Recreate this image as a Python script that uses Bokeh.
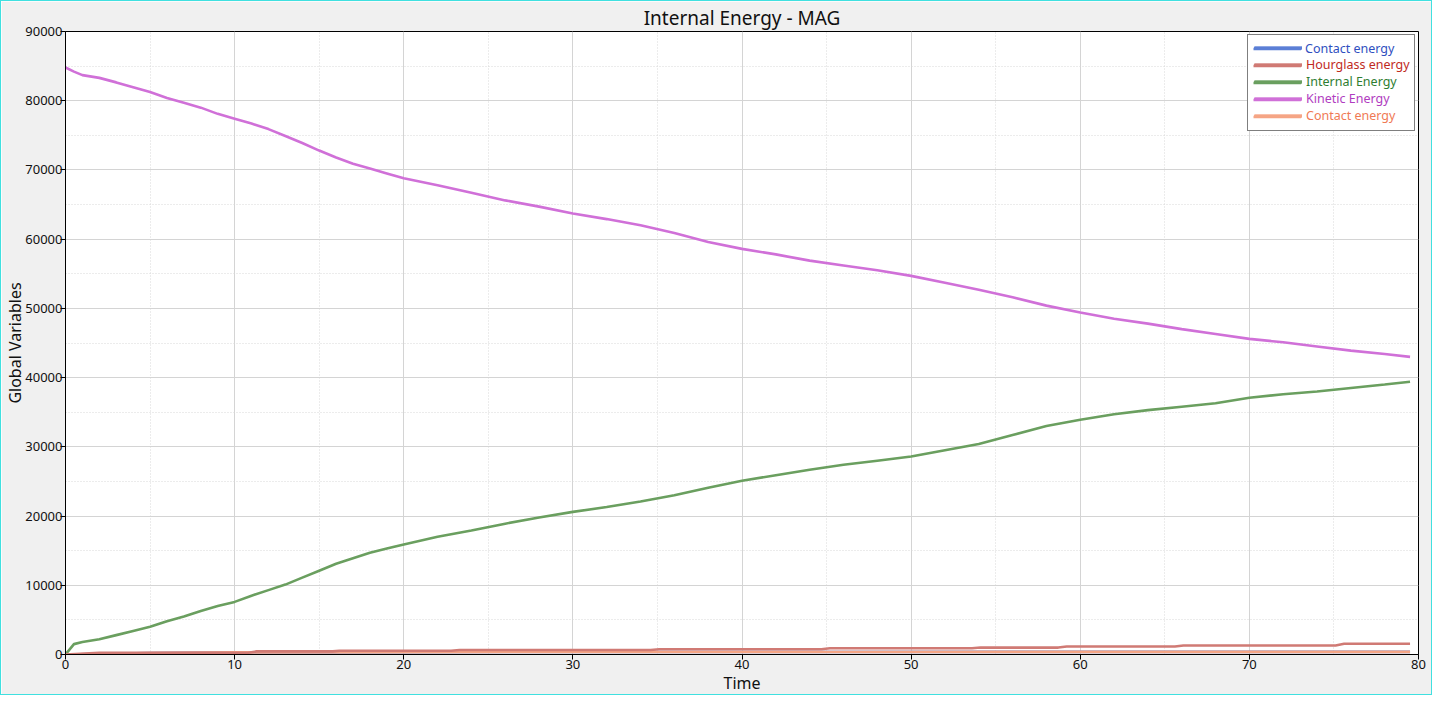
from bokeh.plotting import figure
from bokeh.models import Legend, LegendItem, BasicTicker
from bokeh.embed import file_html
from bokeh.resources import INLINE

# ---- data ----
t_main = [0, 0.5, 1, 2, 3, 4, 5, 6, 7, 8, 9, 10, 11, 12, 13, 14, 15, 16, 17, 18, 19, 20,
          22, 24, 26, 28, 30, 32, 34, 36, 38, 40, 42, 44, 46, 48, 50, 52, 54, 56, 58,
          60, 62, 64, 66, 68, 70, 72, 74, 76, 78, 79.5]
kinetic = [84800, 84200, 83700, 83300, 82650, 81950, 81250, 80400, 79700, 79000, 78100,
           77400, 76700, 75900, 74900, 73900, 72800, 71800, 70900, 70200, 69500, 68800,
           67800, 66700, 65600, 64700, 63700, 62900, 62000, 60900, 59600, 58600, 57800,
           56900, 56200, 55500, 54700, 53700, 52700, 51600, 50400, 49400, 48500, 47800,
           47000, 46300, 45600, 45100, 44500, 43900, 43400, 43000]
internal = [0, 1500, 1800, 2200, 2800, 3400, 4000, 4800, 5500, 6300, 7000, 7600, 8500,
            9300, 10100, 11100, 12100, 13100, 13900, 14700, 15300, 15900, 17000, 17900,
            18900, 19800, 20600, 21300, 22100, 23000, 24100, 25100, 25900, 26700, 27400,
            28000, 28600, 29500, 30400, 31700, 33000, 33900, 34700, 35300, 35800, 36300,
            37100, 37600, 38000, 38500, 39000, 39400]
t_hg = [0, 2, 10.8, 11.3, 15.8, 16.2, 22.8, 23.3, 34.6, 35.1, 44.7, 45.2, 53.6, 54.1,
        58.7, 59.2, 65.6, 66.1, 75.1, 75.6, 79.5]
hourglass = [0, 250, 250, 450, 450, 550, 550, 650, 650, 750, 750, 900, 900, 1000,
             1000, 1150, 1150, 1300, 1300, 1550, 1550]
t_ct = [0, 5, 10, 20, 40, 60, 79.5]
contact = [0, 200, 300, 350, 370, 380, 380]

labels = ["Contact energy", "Hourglass energy", "Internal Energy", "Kinetic Energy", "Contact energy"]
line_colors = ["#5b7fd6", "#d9625a", "#6a9f5f", "#d070d8", "#f5a585"]
text_colors = ["#2f4fc0", "#c02a1e", "#2e7d32", "#b03cc0", "#f07a55"]

FONT = "Noto Sans"

p = figure(width=1432, height=695, x_range=(0, 80), y_range=(0, 90000),
           output_backend="svg", toolbar_location=None,
           title="Internal Energy - MAG",
           x_axis_label="Time", y_axis_label="Global Variables",
           min_border_left=0, min_border_right=15, min_border_top=0, min_border_bottom=0)
p.styles = {"border": "1px solid #40e0e0"}

p.background_fill_color = "white"
p.border_fill_color = "#f0f0f0"
p.outline_line_color = "black"
p.outline_line_width = 1

p.title.align = "center"
p.title.text_font = FONT
p.title.text_font_size = "19px"
p.title.text_font_style = "normal"
p.title.text_color = "#111111"
p.title.offset = 0
p.title.standoff = 2

for ax in (p.xaxis[0], p.yaxis[0]):
    ax.axis_label_text_font = FONT
    ax.axis_label_text_font_size = "16px"
    ax.axis_label_text_font_style = "normal"
    ax.axis_label_text_color = "#111111"
    ax.major_label_text_font = FONT
    ax.major_label_text_font_size = "13px"
    ax.major_label_text_color = "#111111"
    ax.major_tick_in = 0
    ax.major_tick_out = 5
    ax.minor_tick_line_color = None
    ax.axis_line_color = "black"
    ax.major_tick_line_color = "black"
    ax.major_label_standoff = 0
    ax.axis_label_standoff = 0

p.yaxis[0].major_label_standoff = -2
p.yaxis[0].axis_label_standoff = -4

p.xaxis[0].ticker = BasicTicker(desired_num_ticks=8, num_minor_ticks=2,
                                min_interval=10, max_interval=10)
p.yaxis[0].ticker = BasicTicker(desired_num_ticks=9, num_minor_ticks=2,
                                min_interval=10000, max_interval=10000)

for g in (p.xgrid[0], p.ygrid[0]):
    g.grid_line_color = "#d4d4d4"
    g.grid_line_width = 1
    g.minor_grid_line_color = "#d8d8d8"
    g.minor_grid_line_dash = "1 2"

LW = 2.6
r_c1 = p.line(t_ct, contact, line_color=line_colors[0], line_width=LW)
r_ke = p.line(t_main, kinetic, line_color=line_colors[3], line_width=LW)
r_ie = p.line(t_main, internal, line_color=line_colors[2], line_width=LW)
r_c2 = p.line(t_ct, contact, line_color=line_colors[4], line_width=LW)
r_hg = p.line(t_hg, hourglass, line_color="#d07a74", line_width=LW)

renderers = [r_c1, r_hg, r_ie, r_ke, r_c2]

for k in range(5):
    items = []
    for j in range(5):
        items.append(LegendItem(label=labels[j] if j == k else " ", renderers=[renderers[j]]))
    lg = Legend(items=items, location="top_right", margin=3, padding=5, spacing=0,
                glyph_width=48, glyph_height=17, label_height=17, label_width=104,
                label_standoff=4,
                label_text_font=FONT, label_text_font_size="12.5px",
                label_text_color=text_colors[k])
    if k == 0:
        lg.border_line_color = "black"
        lg.border_line_width = 1
        lg.background_fill_color = "white"
        lg.background_fill_alpha = 1
    else:
        lg.border_line_alpha = 0
        lg.background_fill_alpha = 0
    p.add_layout(lg)

open("out.html", "w").write(file_html(p, INLINE))
